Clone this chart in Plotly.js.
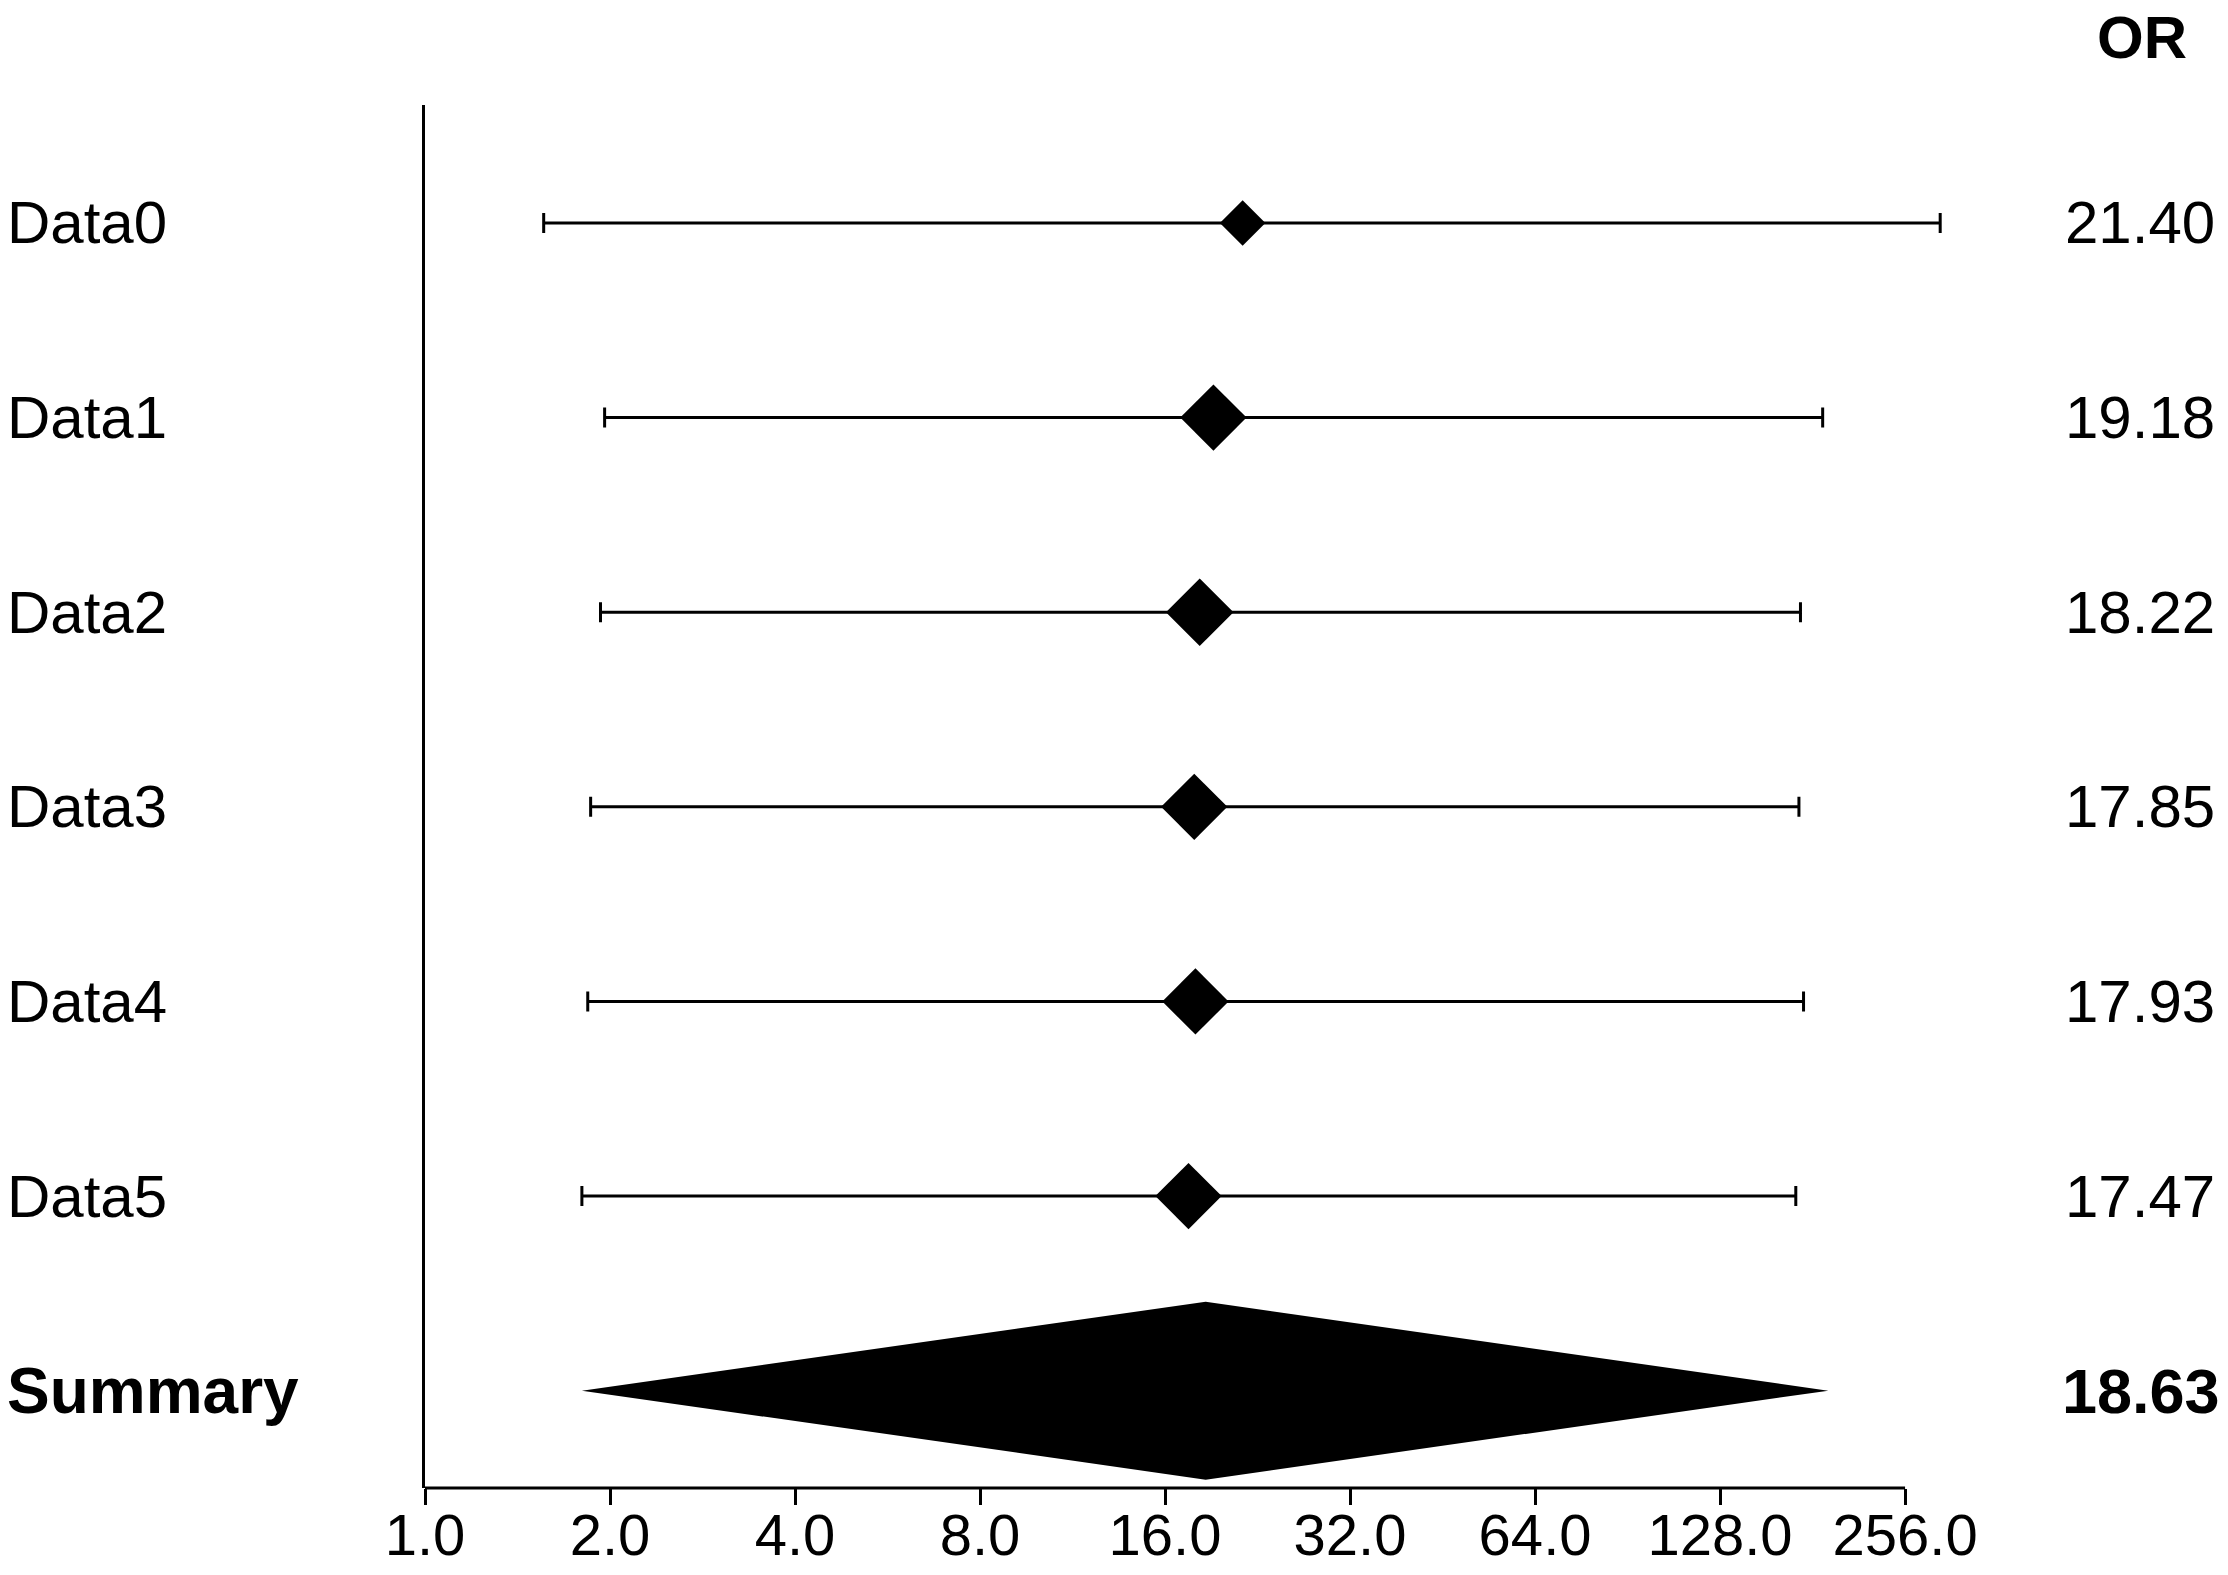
<!DOCTYPE html>
<html>
<head>
<meta charset="utf-8">
<script src="https://cdn.plot.ly/plotly-3.0.1.min.js"></script>
<style>html,body{margin:0;padding:0;background:#fff;}#chart{width:2228px;height:1575px;}</style>
</head>
<body>
<div id="chart"></div>
<script>
// ---- data ----
const labels = ['Data0', 'Data1', 'Data2', 'Data3', 'Data4', 'Data5'];
const orValues = [21.40, 19.18, 18.22, 17.85, 17.93, 17.47];
const ciLower = [1.56, 1.96, 1.93, 1.86, 1.84, 1.80];
const ciUpper = [292, 188, 173, 172, 175, 170];
const summaryLabel = 'Summary';
const summaryOR = 18.63;
const summaryLower = 1.80;
const summaryUpper = 192;
const tickValues = [1, 2, 4, 8, 16, 32, 64, 128, 256];
const tickLabels = ['1.0', '2.0', '4.0', '8.0', '16.0', '32.0', '64.0', '128.0', '256.0'];
const columnHeader = 'OR';

// ---- styles / geometry ----
const W = 2228, H = 1575;
const L = 425, R = 248, T = 105, B = 87;
const plotW = W - L - R, plotH = H - T - B;
const markerSizes = [35, 51, 52, 51, 51, 51];
const summaryHalfHeight = 0.457;
const font = 'Liberation Sans, Arial, Helvetica, sans-serif';
const px2x = p => (p - L) / plotW;
const px2y = p => 1 - (p - T) / plotH;

const rows = labels.map((_, i) => i);
const summaryRow = labels.length;

const traces = [
  {
    type: 'scatter', mode: 'markers',
    x: orValues, y: rows,
    marker: {symbol: 'diamond', size: markerSizes, color: '#000', opacity: 1, line: {width: 0}},
    error_x: {
      type: 'data', symmetric: false,
      array: orValues.map((v, i) => ciUpper[i] - v),
      arrayminus: orValues.map((v, i) => v - ciLower[i]),
      color: '#000', thickness: 3, width: 10
    },
    hoverinfo: 'x+y', showlegend: false
  },
  {
    type: 'scatter', mode: 'lines',
    x: [summaryLower, summaryOR, summaryUpper, summaryOR, summaryLower],
    y: [summaryRow, summaryRow - summaryHalfHeight, summaryRow, summaryRow + summaryHalfHeight, summaryRow],
    fill: 'toself', fillcolor: '#000', line: {width: 0, color: '#000'},
    hoverinfo: 'skip', showlegend: false
  }
];

const annotations = [];
labels.forEach((lab, i) => {
  annotations.push({xref: 'paper', yref: 'y', x: px2x(5), y: i, xanchor: 'left', yanchor: 'middle',
    text: lab, showarrow: false, font: {family: font, size: 60, color: '#000'}});
  annotations.push({xref: 'paper', yref: 'y', x: px2x(2140), y: i, xanchor: 'center', yanchor: 'middle',
    text: orValues[i].toFixed(2), showarrow: false, font: {family: font, size: 60, color: '#000'}});
});
annotations.push({xref: 'paper', yref: 'y', x: px2x(5), y: summaryRow, xanchor: 'left', yanchor: 'middle',
  text: '<b>' + summaryLabel + '</b>', showarrow: false, font: {family: font, size: 64, color: '#000'}});
annotations.push({xref: 'paper', yref: 'y', x: px2x(2141), y: summaryRow, xanchor: 'center', yanchor: 'middle',
  text: '<b>' + summaryOR.toFixed(2) + '</b>', showarrow: false, font: {family: font, size: 63, color: '#000'}});
annotations.push({xref: 'paper', yref: 'paper', x: px2x(2142), y: px2y(2), xanchor: 'center', yanchor: 'top',
  text: '<b>' + columnHeader + '</b>', showarrow: false, font: {family: font, size: 60, color: '#000'}});

const layout = {
  width: W, height: H,
  margin: {l: L, r: R, t: T, b: B, pad: 0},
  paper_bgcolor: '#fff', plot_bgcolor: '#fff',
  showlegend: false,
  xaxis: {
    type: 'log',
    range: [0, 8.405 * Math.log10(2)],
    tickmode: 'array', tickvals: tickValues, ticktext: tickLabels,
    ticks: 'outside', ticklen: 16, tickwidth: 3, tickcolor: '#000',
    ticklabelstandoff: -20,
    showgrid: false, zeroline: false, showline: false,
    tickfont: {family: font, size: 58, color: '#000'}
  },
  yaxis: {
    range: [summaryRow + 0.5, -0.606],
    showgrid: false, zeroline: false, showticklabels: false, ticks: '',
    showline: true, linewidth: 3, linecolor: '#000'
  },
  shapes: [
    {type: 'line', xref: 'x', yref: 'paper', x0: tickValues[0], x1: tickValues[tickValues.length - 1], y0: 0, y1: 0,
      line: {color: '#000', width: 3}}
  ],
  annotations: annotations
};

Plotly.newPlot('chart', traces, layout, {staticPlot: true, displayModeBar: false});
</script>
</body>
</html>
